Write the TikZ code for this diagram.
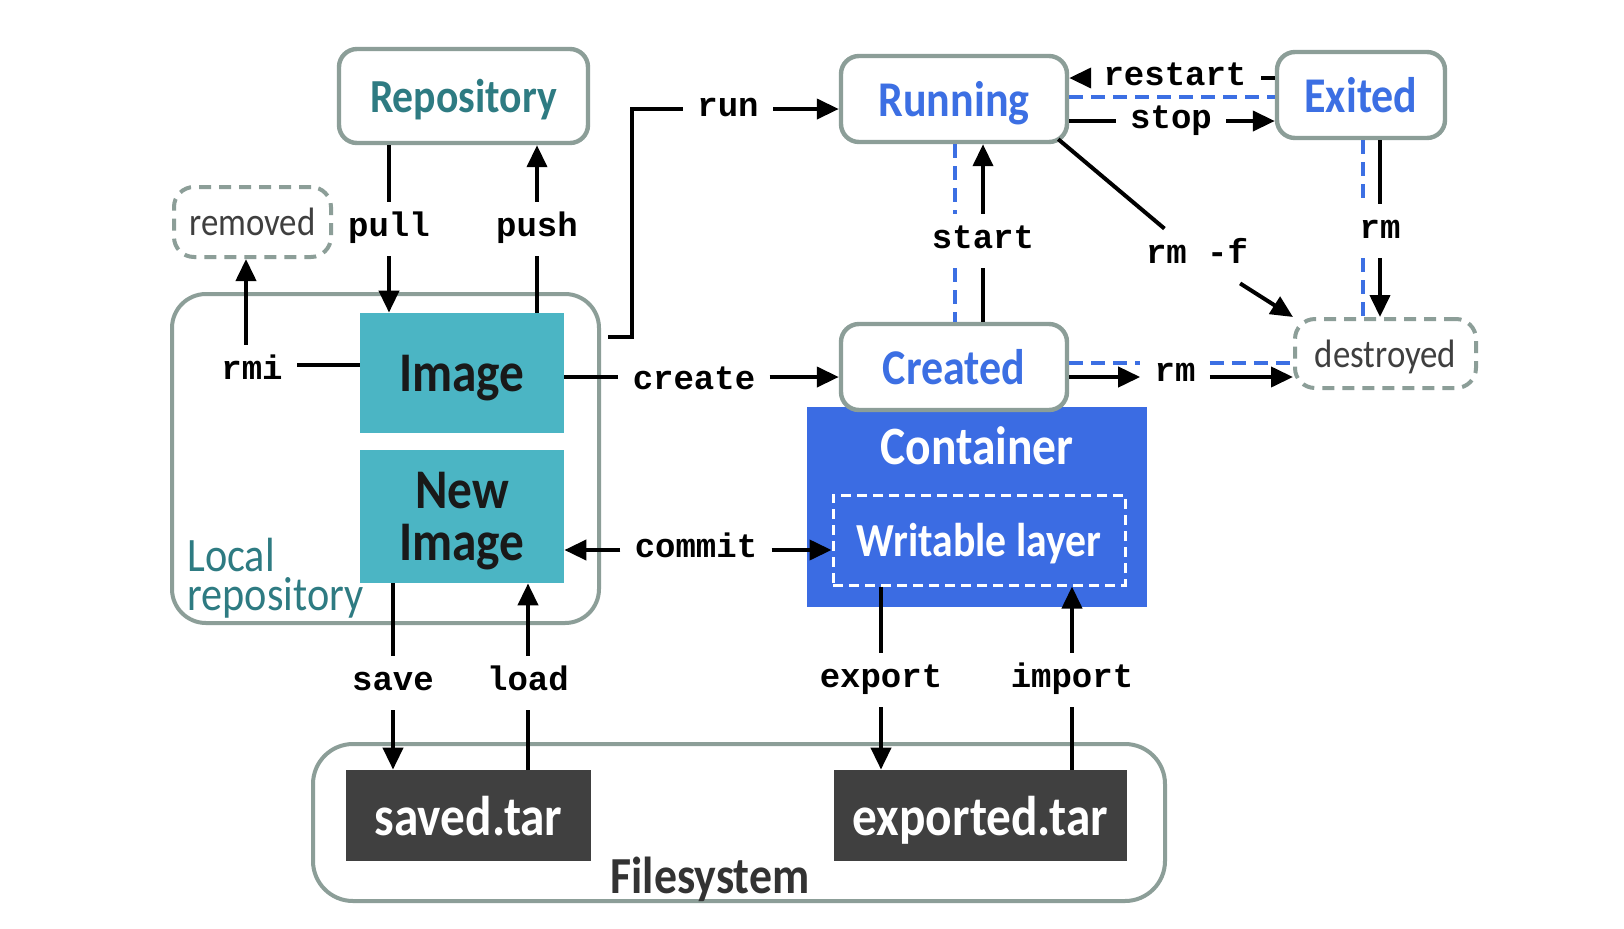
\documentclass[tikz,border=0pt]{standalone}
\usepackage{fontspec}
\setmainfont{Carlito}[FakeStretch=0.88]
\setmonofont{Liberation Mono}
\usetikzlibrary{arrows.meta,calc}
\definecolor{bordc}{HTML}{8C9E98}
\definecolor{tealtxt}{HTML}{2E7B82}
\definecolor{imgfill}{HTML}{4BB5C4}
\definecolor{bluetxt}{HTML}{3C6FE3}
\definecolor{contfill}{HTML}{3B6CE3}
\definecolor{darkbox}{HTML}{404040}
\definecolor{graytxt}{HTML}{3F3F3F}
\begin{document}
\begin{tikzpicture}[x=0.5pt,y=-0.5pt,
  statebox/.style={draw=bordc, line width=2.2pt, rounded corners=9pt, fill=white,
    font=\bfseries\fontsize{25}{27}\selectfont, text=bluetxt, inner sep=0pt, text depth=0pt},
  gonebox/.style={draw=bordc, line width=2pt, dash pattern=on 6pt off 4pt,
    rounded corners=10pt, text=graytxt, font=\fontsize{19.8}{22}\selectfont, inner sep=0pt, text depth=0pt},
  groupbox/.style={draw=bordc, line width=2pt, rounded corners=18pt, inner sep=0pt},
  imgbox/.style={fill=imgfill, text=black!90, font=\bfseries\fontsize{28}{26}\selectfont,
    align=center, inner sep=0pt, minimum width=102pt, text depth=0pt},
  tarbox/.style={fill=darkbox, text=white, font=\bfseries\fontsize{28}{30}\selectfont,
    inner sep=0pt, minimum height=45.5pt, text depth=0pt},
  lbl/.style={font=\ttfamily\bfseries\fontsize{17}{20}\selectfont, text height=11pt,
    text depth=4pt, inner xsep=7pt, inner ysep=6pt},
  conn/.style={line width=2pt},
  arr/.style={conn, -{Triangle[length=11pt,width=10pt]}},
  bdash/.style={draw=bluetxt, line width=2pt, dash pattern=on 7pt off 4pt}
]
\useasboundingbox (0,0) rectangle (1624,928);
\fill[white] (0,0) rectangle (1624,928);

% groups
\node[groupbox, rounded corners=17pt, minimum width=213.5pt, minimum height=164.5pt] (localrepo) at (385.5,458.5) {};
\node[groupbox, rounded corners=20pt, minimum width=426pt, minimum height=78.5pt] (fs) at (739,822.5) {};
\node[anchor=south west, inner sep=0pt, text=tealtxt, align=left, font=\fontsize{24}{19.5}\selectfont] (loclbl) at (187,619) {Local\\repository};
\node[anchor=base, inner sep=0pt, text=black!80, font=\bfseries\fontsize{26}{28}\selectfont] (fslbl) at (710,893) {Filesystem};

% container
\node[fill=contfill, inner sep=0pt, minimum width=170pt, minimum height=100pt] (container) at (977,507) {};
\node[text=white, inner sep=0pt, font=\bfseries\fontsize{27}{29}\selectfont] (contlbl) at (977,446) {Container};
\node[draw=white, dash pattern=on 5pt off 3pt, line width=1.5pt, inner sep=0pt,
  minimum width=146pt, minimum height=45pt, text=white, text depth=0pt,
  font=\bfseries\fontsize{23.7}{25}\selectfont] (writable) at (979,540) {Writable layer};

% boxes
\node[statebox, text=tealtxt, font=\bfseries\fontsize{23.7}{25}\selectfont, minimum width=124.5pt, minimum height=47pt] (repo) at (463.5,96) {Repository};
\node[gonebox, minimum width=78.5pt, minimum height=35pt] (removed) at (252.5,222) {removed};
\node[imgbox, minimum height=60pt] (image) at (462,373) {Image};
\node[imgbox, minimum height=66.5pt] (newimage) at (462,516.5) {New\\Image};
\node[statebox, minimum width=113pt, minimum height=43pt] (running) at (954,99) {Running};
\node[statebox, minimum width=84pt, minimum height=43pt] (exited) at (1361,95) {Exited};
\node[statebox, minimum width=113pt, minimum height=43pt] (created) at (954,367) {Created};
\node[gonebox, minimum width=90.5pt, minimum height=34.5pt] (destroyed) at (1385.5,353.5) {destroyed};
\node[tarbox, minimum width=122.5pt] (saved) at (468.5,815.5) {saved.tar};
\node[tarbox, minimum width=146.5pt] (exported) at (980.5,815.5) {exported.tar};

% labels
\node[lbl] (pull) at (389,229) {pull};
\node[lbl] (push) at (537,229) {push};
\node[lbl] (rmi) at (252,372) {rmi};
\node[lbl] (run) at (728,109) {run};
\node[lbl] (create) at (694,382) {create};
\node[lbl] (commit) at (696,550) {commit};
\node[lbl] (start) at (983,241) {start};
\node[lbl] (restart) at (1175,78) {restart};
\node[lbl] (stop) at (1171,121) {stop};
\node[lbl] (rmf) at (1197,256) {rm -f};
\node[lbl] (rmx) at (1380,231) {rm};
\node[lbl] (rmc) at (1175,374) {rm};
\node[lbl] (save) at (393,683) {save};
\node[lbl] (load) at (528,683) {load};
\node[lbl] (export) at (881,680) {export};
\node[lbl] (import) at (1072,680) {import};

% helper coordinates
\coordinate (rmiy) at (0,365);
\coordinate (createy) at (0,377);
\coordinate (rmy) at (0,377);
\coordinate (rdy) at (0,363);
\coordinate (rsdy) at (0,97);
\coordinate (sdx) at (955,0);
\coordinate (rxd) at (1363,0);
\coordinate (runstart) at ($(localrepo.north east)+(7,45)$);
\coordinate (rfstart) at ($(running.south east)+(-11,-5)$);
\coordinate (rmiarr) at ($(rmi.north)+(-6,0)$);

% blue dashed lines
\draw[bdash] (sdx |- running.south) -- (sdx |- start.north);
\draw[bdash] (sdx |- start.south) -- (sdx |- created.north);
\draw[bdash] (running.east |- rsdy) -- (exited.west |- rsdy);
\draw[bdash] (rxd |- exited.south) -- (rxd |- rmx.north);
\draw[bdash] (rxd |- rmx.south) -- (rxd |- destroyed.north);
\draw[bdash] (created.east |- rdy) -- (rmc.west |- rdy);
\draw[bdash] (rmc.east |- rdy) -- (destroyed.west |- rdy);

% connectors
\draw[conn] (repo.south -| pull) -- (pull.north);
\draw[arr] (pull.south) -- (pull |- image.north);
\draw[conn] (image.north -| push) -- (push.south);
\draw[arr] (push.north) -- (push |- repo.south);
\draw[conn] (image.west |- rmiy) -- (rmi.east |- rmiy);
\draw[arr] (rmiarr) -- (rmiarr |- removed.south);
\draw[conn] (runstart) -- ++(24,0) |- (run.west);
\draw[arr] (run.east) -- (running.west |- run.east);
\draw[conn] (image.east |- createy) -- (create.west |- createy);
\draw[arr] (create.east |- createy) -- (created.west |- createy);
\draw[arr] (commit.west) -- (newimage.east |- commit);
\draw[arr] (commit.east) -- (writable.west |- commit);
\draw[conn] (created.north -| start) -- (start.south);
\draw[arr] (start.north) -- (start |- running.south);
\draw[conn] (exited.west |- restart) -- (restart.east);
\draw[arr] (restart.west) -- (running.east |- restart);
\draw[conn] (running.east |- stop) -- (stop.west);
\draw[arr] (stop.east) -- (exited.west |- stop);
\draw[conn] (rfstart) -- (rmf);
\draw[arr] (rmf) -- (destroyed.north west);
\draw[conn] (exited.south -| rmx) -- (rmx.north);
\draw[arr] (rmx.south) -- (rmx |- destroyed.north);
\draw[arr] (created.east |- rmy) -- (rmc.west |- rmy);
\draw[arr] (rmc.east |- rmy) -- (destroyed.west |- rmy);
\draw[conn] (newimage.south -| save) -- (save.north);
\draw[arr] (save.south) -- (save |- saved.north);
\draw[conn] (saved.north -| load) -- (load.south);
\draw[arr] (load.north) -- (load |- newimage.south);
\draw[conn] (writable.south -| export) -- (export.north);
\draw[arr] (export.south) -- (export |- exported.north);
\draw[conn] (exported.north -| import) -- (import.south);
\draw[arr] (import.north) -- (import |- writable.south);
\end{tikzpicture}
\end{document}
